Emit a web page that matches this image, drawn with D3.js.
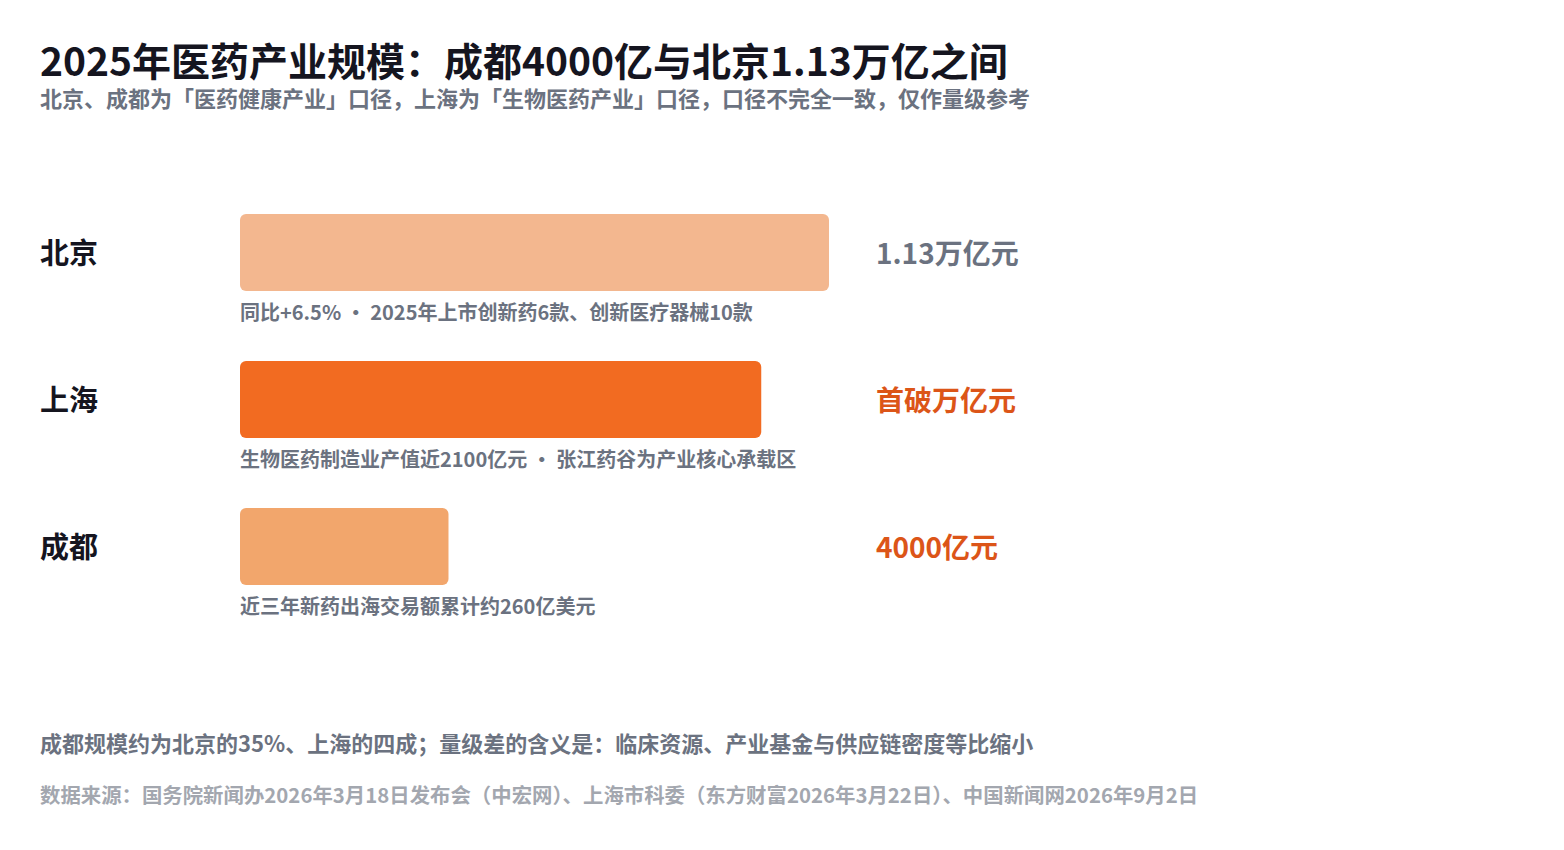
<!DOCTYPE html>
<html><head><meta charset="utf-8">
<script src="https://cdn.jsdelivr.net/npm/d3@7"></script>
<style>
body{margin:0;background:#fff;font-family:"Noto Sans CJK SC","Noto Sans",sans-serif;}
</style></head>
<body><svg id="chart" width="1564" height="850"></svg>
<script>
var cities = ["北京", "上海", "成都"];
var values = [11300, 10000, 4000];
var valueLabels = ["1.13万亿元", "首破万亿元", "4000亿元"];
var notes = ["同比+6.5% · 2025年上市创新药6款、创新医疗器械10款",
             "生物医药制造业产值近2100亿元 · 张江药谷为产业核心承载区",
             "近三年新药出海交易额累计约260亿美元"];
var barColors = ["#F3B78F", "#F26B21", "#F2A66C"];
var labelColors = ["#6B7280", "#DC5518", "#DC5518"];

var svg = d3.select("#chart");
var x = d3.scaleLinear().domain([0, 11300]).range([240, 829]);
var y = d3.scalePoint().domain(cities).range([214, 508]);
var barH = 77;

svg.append("text").attr("x", 40).attr("y", 76).attr("font-size", 39).attr("font-weight", 700)
  .attr("fill", "#15151f").text("2025年医药产业规模：成都4000亿与北京1.13万亿之间");
svg.append("text").attr("x", 40).attr("y", 107).attr("font-size", 22).attr("font-weight", 700)
  .attr("fill", "#6B7280").text("北京、成都为「医药健康产业」口径，上海为「生物医药产业」口径，口径不完全一致，仅作量级参考");

var g = svg.selectAll("g.row").data(cities).enter().append("g").attr("class", "row");
g.append("rect").attr("x", x(0)).attr("y", function (d) { return y(d); })
  .attr("width", function (d, i) { return x(values[i]) - x(0); })
  .attr("height", barH).attr("rx", 6).attr("fill", function (d, i) { return barColors[i]; });
g.append("text").attr("x", 40).attr("y", function (d) { return y(d) + barH / 2 + 11; })
  .attr("font-size", 29).attr("font-weight", 700).attr("fill", "#15151f").text(function (d) { return d; });
g.append("text").attr("x", 876).attr("y", function (d) { return y(d) + barH / 2 + 11; })
  .attr("font-size", 28).attr("font-weight", 700).attr("fill", function (d, i) { return labelColors[i]; })
  .text(function (d, i) { return valueLabels[i]; });
g.append("text").attr("x", 240).attr("y", function (d) { return y(d) + barH + 29; })
  .attr("font-size", 20).attr("font-weight", 700).attr("fill", "#6B7280")
  .text(function (d, i) { return notes[i]; });

svg.append("text").attr("x", 40).attr("y", 752).attr("font-size", 22).attr("font-weight", 700)
  .attr("fill", "#6B7280").text("成都规模约为北京的35%、上海的四成；量级差的含义是：临床资源、产业基金与供应链密度等比缩小");
svg.append("text").attr("x", 40).attr("y", 803).attr("font-size", 20.4).attr("font-weight", 700)
  .attr("fill", "#A3A7AF").text("数据来源：国务院新闻办2026年3月18日发布会（中宏网）、上海市科委（东方财富2026年3月22日）、中国新闻网2026年9月2日");
</script></body></html>
